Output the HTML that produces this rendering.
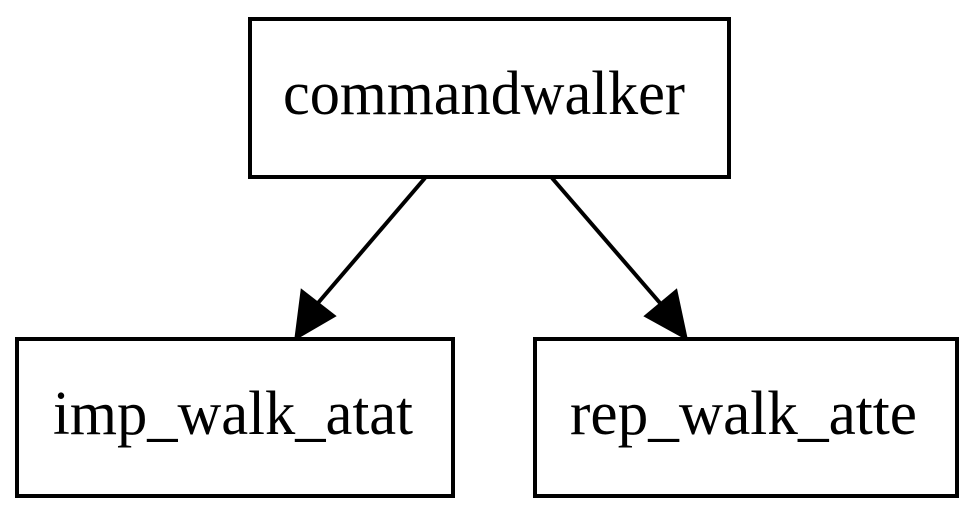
<!DOCTYPE html>
<html><head><style>html,body{margin:0;padding:0;background:#fff;}</style></head>
<body>
<svg width="976" height="516" viewBox="0 0 976 516" xmlns="http://www.w3.org/2000/svg">
<rect x="0" y="0" width="976" height="516" fill="#fff"/>
<g fill="none" stroke="#000" stroke-width="4">
<rect x="250" y="19" width="479" height="158"/>
<rect x="17" y="339" width="436" height="157"/>
<rect x="535" y="339" width="422" height="157"/>
<line x1="425" y1="178" x2="318" y2="303"/>
<line x1="552" y1="178" x2="660" y2="303"/>
</g>
<polygon points="296,338 302,291 334,316" fill="#000" stroke="#000" stroke-width="3"/>
<polygon points="686,338 646,316 676,291" fill="#000" stroke="#000" stroke-width="3"/>
<g font-family="'Liberation Serif', serif" font-size="62" fill="#000">
<text x="283" y="114" textLength="402" lengthAdjust="spacingAndGlyphs">commandwalker</text>
<text x="53" y="434" textLength="360" lengthAdjust="spacingAndGlyphs">imp_walk_atat</text>
<text x="570" y="434" textLength="347" lengthAdjust="spacingAndGlyphs">rep_walk_atte</text>
</g>
</svg>
</body></html>
